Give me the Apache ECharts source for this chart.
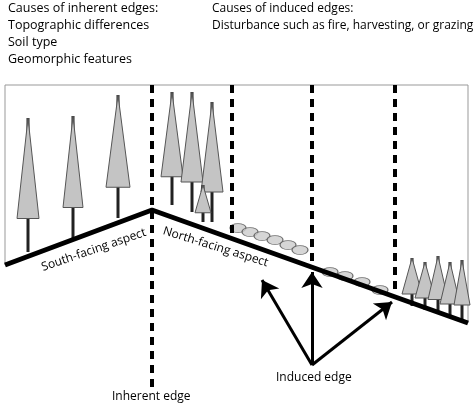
<!DOCTYPE html>
<html><head><meta charset="utf-8">
<script src="https://cdn.jsdelivr.net/npm/echarts@6/dist/echarts.min.js"></script>
<style>html,body{margin:0;background:#fff}#c{width:474px;height:405px}</style>
</head><body><div id="c"></div>
<script>
// ground profile (x, y in picture units, y grows downward)
var ground = [[5,265],[152,210],[468,323]];
var frame = [[5,265],[5,85],[468,85],[468,323]];
var dashX = [152,232,312,395];
var dashEnd = [388,238,268,298];
var arrowsFrom = [[312,365],[312,365],[312,365]];
var arrowsTo = [[262,280],[312,272],[392,302]];
// trees: x, top, base, half width
var trees = [[28,118,252,11],[73,116,238,10],[118,95,218,12],
  [172,92,205,11],[192,92,212,11],[212,102,222,11],[203,185,222,8],
  [412,258,306,10],[425,262,310,10],[438,256,314,10],[450,262,318,10],[462,260,320,8]];
var shrubs = [[238,228],[250,232],[262,236],[275,240],[288,245],[300,250],[330,272],[345,276],[362,282],[380,290]];

var chart = echarts.init(document.getElementById('c'));
chart.setOption({
  animation:false,
  grid:{left:0,right:0,top:0,bottom:0},
  xAxis:{type:'value',min:0,max:474,show:false},
  yAxis:{type:'value',min:0,max:405,inverse:true,show:false},
  series:[
    {type:'line',data:frame,symbol:'none',lineStyle:{color:'#999',width:1},z:1},
    {type:'custom',data:trees,z:2,renderItem:function(p,api){
      var x=api.value(0),t=api.value(1),b=api.value(2),w=api.value(3);
      var top=api.coord([x,t]),bot=api.coord([x,b]);
      var cb=api.coord([x,t+(b-t)*0.75]);
      var ww=api.size([w,0])[0];
      return {type:'group',children:[
        {type:'line',shape:{x1:top[0],y1:top[1],x2:bot[0],y2:bot[1]},style:{stroke:'#222',lineWidth:3}},
        {type:'polygon',shape:{points:[[top[0],top[1]],[top[0]+ww,cb[1]],[top[0]-ww,cb[1]]]},
          style:{fill:'#c4c4c4',stroke:'#555',lineWidth:1}}]};
    }},
    {type:'scatter',data:shrubs,symbol:'circle',symbolSize:[16,9],z:2,
      itemStyle:{color:'#ccc',borderColor:'#555',borderWidth:1}},
    {type:'line',data:ground,symbol:'none',lineStyle:{color:'#000',width:5},z:3},
    {type:'lines',coordinateSystem:'cartesian2d',z:4,
      data:dashX.map(function(x,i){return {coords:[[x,85],[x,dashEnd[i]]]};}),
      lineStyle:{color:'#000',width:4,type:[8,6],opacity:1}},
    {type:'lines',coordinateSystem:'cartesian2d',z:4,symbol:['none','arrow'],symbolSize:16,
      data:arrowsFrom.map(function(f,i){return {coords:[f,arrowsTo[i]]};}),
      lineStyle:{color:'#000',width:3,opacity:1}}
  ],
  graphic:[
    {type:'text',left:8,top:0,style:{text:'Causes of inherent edges:\nTopographic differences\nSoil type\nGeomorphic features',font:'12.5px "Open Sans"',lineHeight:17,fill:'#000'}},
    {type:'text',left:212,top:0,style:{text:'Causes of induced edges:\nDisturbance such as fire, harvesting, or grazing',font:'12px "Open Sans"',lineHeight:17,fill:'#000'}},
    {type:'text',x:40,y:262,rotation:0.33,style:{text:'South-facing aspect',font:'12px "Open Sans"',fill:'#000'}},
    {type:'text',x:165,y:225,rotation:-0.3,style:{text:'North-facing aspect',font:'12px "Open Sans"',fill:'#000'}},
    {type:'text',x:276,y:372,style:{text:'Induced edge',font:'12px "Open Sans"',fill:'#000'}},
    {type:'text',x:112,y:391,style:{text:'Inherent edge',font:'12px "Open Sans"',fill:'#000'}}
  ]
});
</script></body></html>
